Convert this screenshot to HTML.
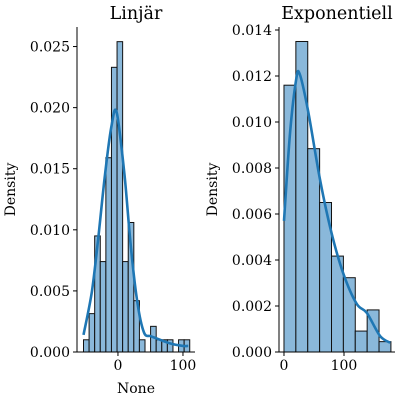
<!DOCTYPE html>
<html><head><meta charset="utf-8"><style>
body{margin:0;background:#fff;}
svg{font-family:"DejaVu Serif","Liberation Serif",serif;}
</style></head><body>
<svg id="c" width="400" height="400" xmlns="http://www.w3.org/2000/svg"></svg>
<script>
const linBinStart=-53, linBinWidth=8.6;
const linHeights=[0.001,0.00314,0.0095,0.0074,0.0159,0.0233,0.0254,0.0074,0.0106,0.0042,0.001,0,0.0021,0.001,0.001,0.001,0,0.001,0.001];
const linKdeX=[-53,-40,-30,-20,-10,-2,10,20,30,40,50,60,80,100,108];
const linKdeY=[0.0014,0.005,0.0095,0.0145,0.0185,0.0196,0.0145,0.0085,0.004,0.0016,0.0013,0.0011,0.0007,0.0005,0.0005];
const linXTicks=[0,100], linYTicks=[0,0.005,0.01,0.015,0.02,0.025];
const expBinStart=0, expBinWidth=19.8;
const expHeights=[0.0116,0.0135,0.00884,0.0065,0.00417,0.00323,0.00091,0.00183,0.00045];
const expKdeX=[0,10,20,26,40,60,79,99,121,138,160,177];
const expKdeY=[0.0057,0.0095,0.0118,0.0121,0.0105,0.0075,0.0052,0.0034,0.0021,0.0017,0.0007,0.0004];
const expXTicks=[0,100], expYTicks=[0,0.002,0.004,0.006,0.008,0.01,0.012,0.014];
const NS="http://www.w3.org/2000/svg", svg=document.getElementById('c');
function el(t,a,p){const e=document.createElementNS(NS,t);for(const k in a)e.setAttribute(k,a[k]);(p||svg).appendChild(e);return e;}
function smooth(pts){let d='M'+pts[0][0].toFixed(1)+','+pts[0][1].toFixed(1);
 for(let i=0;i<pts.length-1;i++){const p0=pts[Math.max(0,i-1)],p1=pts[i],p2=pts[i+1],p3=pts[Math.min(pts.length-1,i+2)];
  const c1=[p1[0]+(p2[0]-p0[0])/6,p1[1]+(p2[1]-p0[1])/6],c2=[p2[0]-(p3[0]-p1[0])/6,p2[1]-(p3[1]-p1[1])/6];
  d+=`C${c1[0].toFixed(1)},${c1[1].toFixed(1)} ${c2[0].toFixed(1)},${c2[1].toFixed(1)} ${p2[0].toFixed(1)},${p2[1].toFixed(1)}`;}
 return d;}
function panel(o){
 const g=el('g',{});
 
 
 const sx=v=>o.x0+(v-o.xmin)/(o.xmax-o.xmin)*(o.x1-o.x0);
 const sy=v=>o.y0-(v-0)/(o.ymax)*(o.y0-o.y1);
 o.heights.forEach((h,i)=>{ if(h<=0)return;
  const a=sx(o.bs+i*o.bw), b=sx(o.bs+(i+1)*o.bw);
  const r=el('rect',{x:a,y:sy(h),width:b-a,height:o.y0-sy(h),fill:'#8ab8da',stroke:'#111','stroke-width':1},g);
  
  
 });
 const p=el('path',{d:smooth(o.kx.map((x,i)=>[sx(x),sy(o.ky[i])])),fill:'none',stroke:'#1f77b4','stroke-width':2.6,'stroke-linejoin':'round'},g);
 
 
 el('line',{x1:o.x0,y1:o.y1,x2:o.x0,y2:o.y0,stroke:'#000','stroke-width':1},g);
 el('line',{x1:o.x0,y1:o.y0,x2:o.x1,y2:o.y0,stroke:'#000','stroke-width':1},g);
 o.xt.forEach(t=>{const x=sx(t);el('line',{x1:x,y1:o.y0,x2:x,y2:o.y0+4,stroke:'#000'},g);
  const tx=el('text',{x:x,y:o.y0+18,'text-anchor':'middle','font-size':14},g);tx.textContent=t;
  
  });
 o.yt.forEach(t=>{const y=sy(t);el('line',{x1:o.x0-4,y1:y,x2:o.x0,y2:y,stroke:'#000'},g);
  const tx=el('text',{x:o.x0-7,y:y+5,'text-anchor':'end','font-size':14},g);tx.textContent=t.toFixed(3);
  
  });
 const ti=el('text',{x:(o.x0+o.x1)/2,y:19,'text-anchor':'middle','font-size':17.5},g);ti.textContent=o.title;
 
 
 const yl=el('text',{x:0,y:0,'text-anchor':'middle','font-size':14,transform:`translate(${o.ylx},${(o.y0+o.y1)/2}) rotate(-90)`},g);yl.textContent='Density';
 
 
 if(o.xlabel){const xl=el('text',{x:(o.x0+o.x1)/2,y:393,'text-anchor':'middle','font-size':14},g);xl.textContent=o.xlabel;
  
  }
}
panel({name:'linear-panel',x0:77,x1:195,y0:352,y1:27,xmin:-63,xmax:118.5,ymax:0.0266,bs:linBinStart,bw:linBinWidth,heights:linHeights,kx:linKdeX,ky:linKdeY,xt:linXTicks,yt:linYTicks,title:'Linjär',xlabel:'None',ylx:15});
panel({name:'exponential-panel',x0:279,x1:395,y0:352,y1:27,xmin:-8.3,xmax:185,ymax:0.01413,bs:expBinStart,bw:expBinWidth,heights:expHeights,kx:expKdeX,ky:expKdeY,xt:expXTicks,yt:expYTicks,title:'Exponentiell',xlabel:'',ylx:217});
</script>
</body></html>
